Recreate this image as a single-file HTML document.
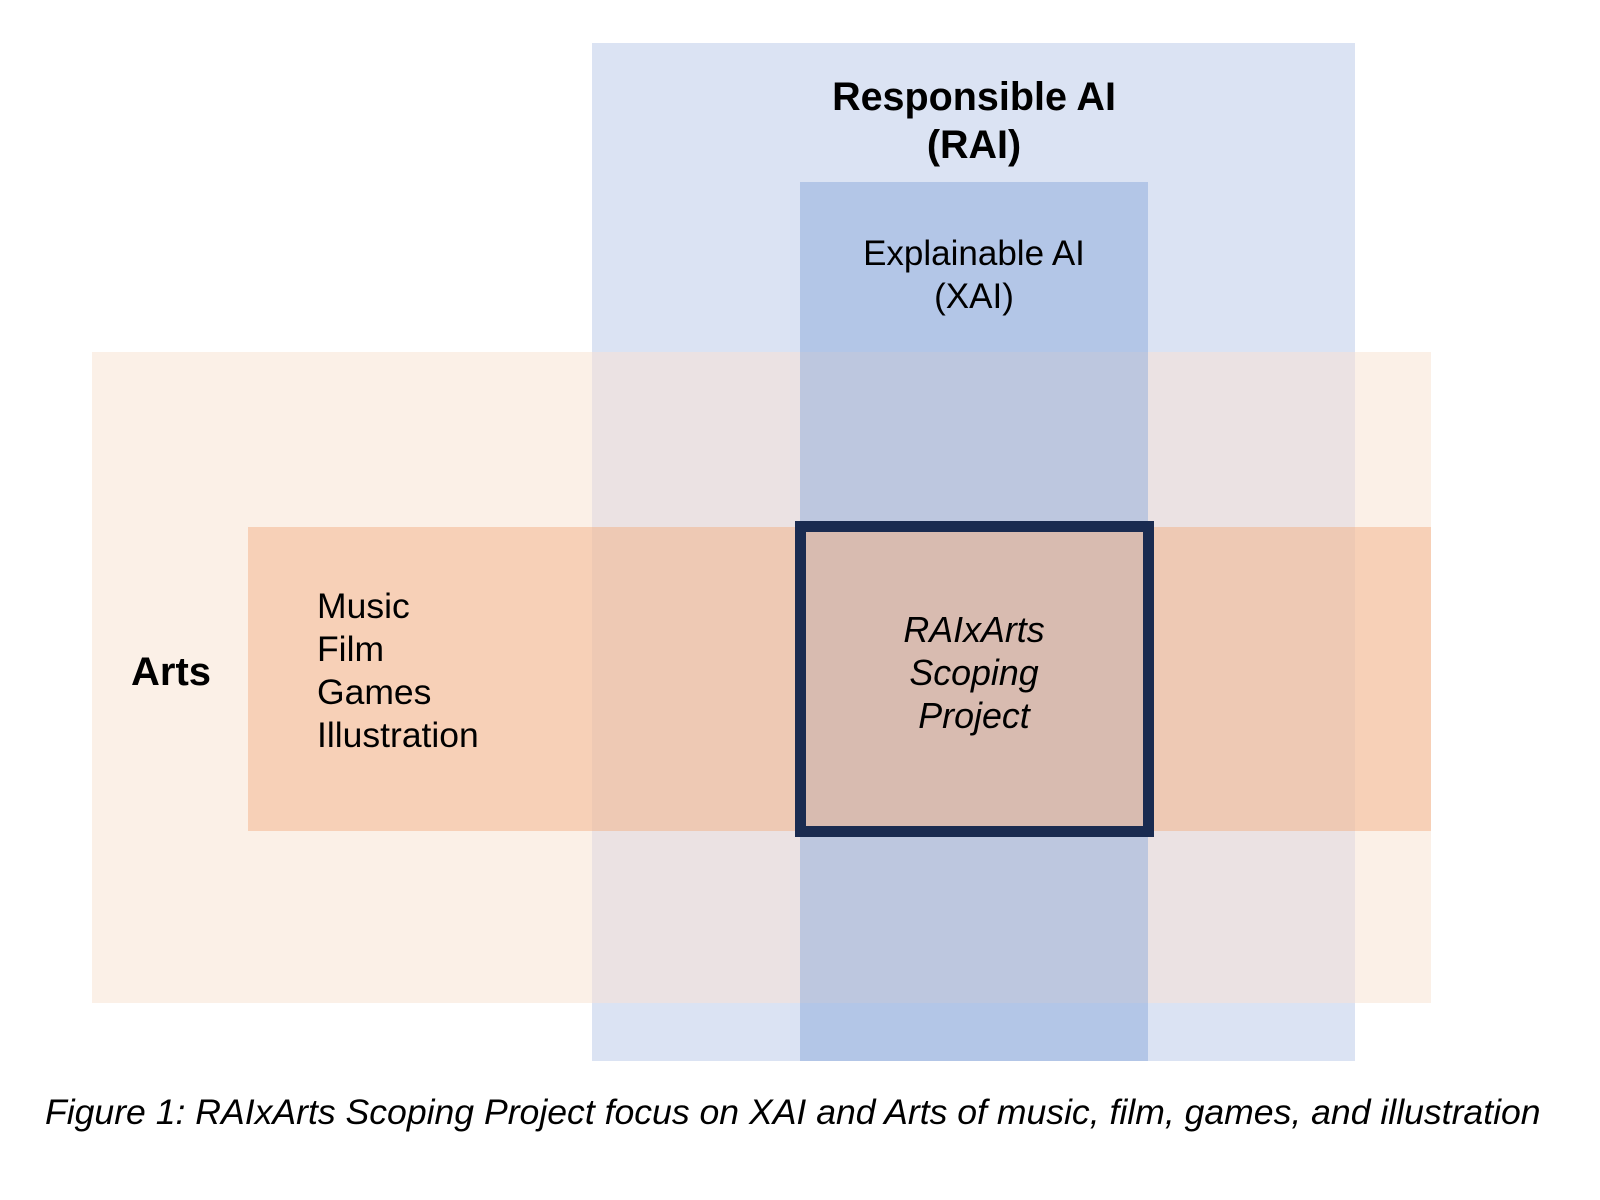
<!DOCTYPE html>
<html><head><style>
body{margin:0;width:1600px;height:1200px;background:#fff;position:relative;overflow:hidden;font-family:"Liberation Sans",Arial,sans-serif;color:#000}
.r{position:absolute}
.t{position:absolute;white-space:nowrap;line-height:1}
</style></head><body>
<div class="r" style="left:592px;top:43px;width:763px;height:1018px;background:#dbe3f3"></div>
<div class="r" style="left:800px;top:182px;width:348px;height:879px;background:#b3c6e7"></div>
<div class="r" style="left:92px;top:352px;width:500px;height:651px;background:#fbf0e7"></div>
<div class="r" style="left:1355px;top:352px;width:76px;height:651px;background:#fbf0e7"></div>
<div class="r" style="left:592px;top:352px;width:208px;height:651px;background:#ebe2e3"></div>
<div class="r" style="left:1148px;top:352px;width:207px;height:651px;background:#ebe2e3"></div>
<div class="r" style="left:800px;top:352px;width:348px;height:651px;background:#bdc7df"></div>
<div class="r" style="left:248px;top:527px;width:344px;height:304px;background:#f7d0b7"></div>
<div class="r" style="left:592px;top:527px;width:208px;height:304px;background:#eec9b4"></div>
<div class="r" style="left:1148px;top:527px;width:207px;height:304px;background:#eec9b4"></div>
<div class="r" style="left:1355px;top:527px;width:76px;height:304px;background:#f7d0b7"></div>
<div class="r" style="left:795px;top:521px;width:359px;height:316px;box-sizing:border-box;border:11px solid #1a2b50;background:#d8bbb0"></div>

<div class="t" style="left:774px;width:400px;top:73px;text-align:center;font-weight:bold;font-size:39.5px;line-height:48px">Responsible AI<br>(RAI)</div>
<div class="t" style="left:774px;width:400px;top:232px;text-align:center;font-size:35px;line-height:43px">Explainable AI<br>(XAI)</div>
<div class="t" style="left:131px;top:652px;font-weight:bold;font-size:40px">Arts</div>
<div class="t" style="left:317px;top:585px;font-size:35.5px;line-height:43px">Music<br>Film<br>Games<br>Illustration</div>
<div class="t" style="left:824px;width:300px;top:609px;text-align:center;font-style:italic;font-size:35.8px;line-height:43px">RAIxArts<br>Scoping<br>Project</div>
<div class="t" style="left:45px;top:1095px;font-style:italic;font-size:35.6px">Figure 1: RAIxArts Scoping Project focus on XAI and Arts of music, film, games, and illustration</div>
</body></html>
